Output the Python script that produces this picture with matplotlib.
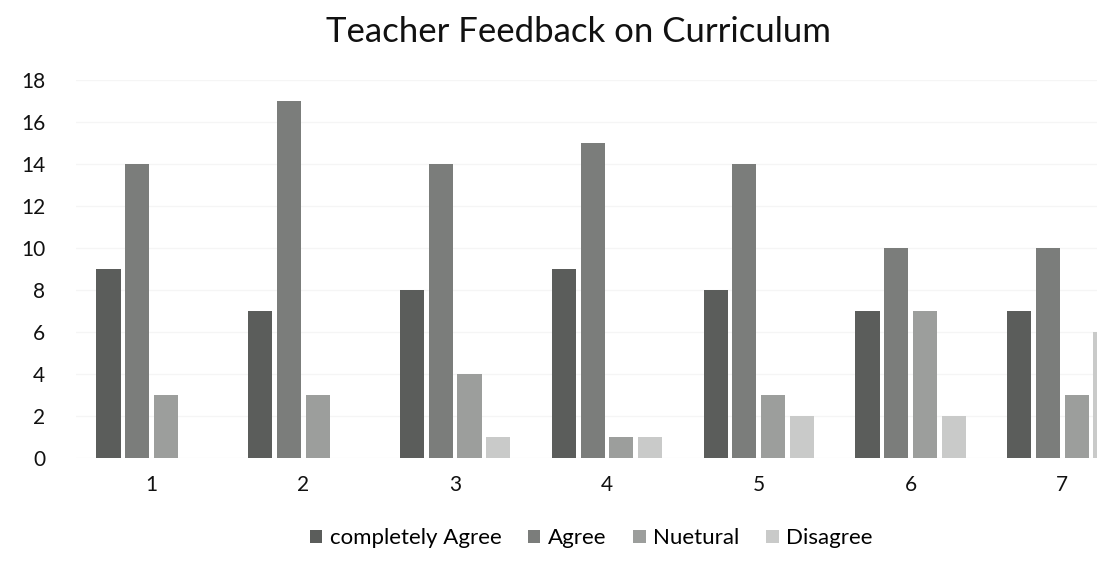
import numpy as np
import matplotlib.pyplot as plt

plt.rcParams['font.family'] = ['Lato', 'DejaVu Sans']

groups = ['1', '2', '3', '4', '5', '6', '7']
completely_agree = [9, 7, 8, 9, 8, 7, 7]
agree = [14, 17, 14, 15, 14, 10, 10]
neutral = [3, 3, 4, 1, 3, 7, 3]
disagree = [0, 0, 1, 1, 2, 2, 6]

series = [completely_agree, agree, neutral, disagree]
labels = ['completely Agree', 'Agree', 'Nuetural', 'Disagree']
colors = ['#5b5d5b', '#7b7d7b', '#9c9e9c', '#c9cac9']

fig = plt.figure(figsize=(10.97, 5.78), dpi=100)
# axes runs past the right edge, like the cropped scan
ax = fig.add_axes([0.069, 0.2076, 0.9686, 0.654])

x = np.arange(1, len(groups) + 1)
step = 0.189
width = 0.159
for k, (vals, lab, col) in enumerate(zip(series, labels, colors)):
    ax.bar(x + (k - 1.5) * step, vals, width, color=col, label=lab)

ax.set_xlim(0.5, 7.5)
ax.set_ylim(0, 18)
ax.set_yticks(range(0, 19, 2))
ax.set_xticks(x)
ax.set_xticklabels(groups)
ax.grid(axis='y', color='#f5f5f5', linewidth=1)
ax.set_axisbelow(True)
for s in ax.spines.values():
    s.set_visible(False)
ax.tick_params(length=0, labelsize=15, colors='#111111')
ax.tick_params(axis='y', pad=22)
ax.tick_params(axis='x', pad=12)

fig.text(0.527, 0.945, 'Teacher Feedback on Curriculum', ha='center', va='center',
         fontsize=25, color='#111111')
fig.legend(loc='center', bbox_to_anchor=(0.539, 0.069), ncol=4, frameon=False,
           fontsize=16, handlelength=0.55, handleheight=0.55, handletextpad=0.35,
           columnspacing=1.2)

fig.savefig('out.png', dpi=100)
